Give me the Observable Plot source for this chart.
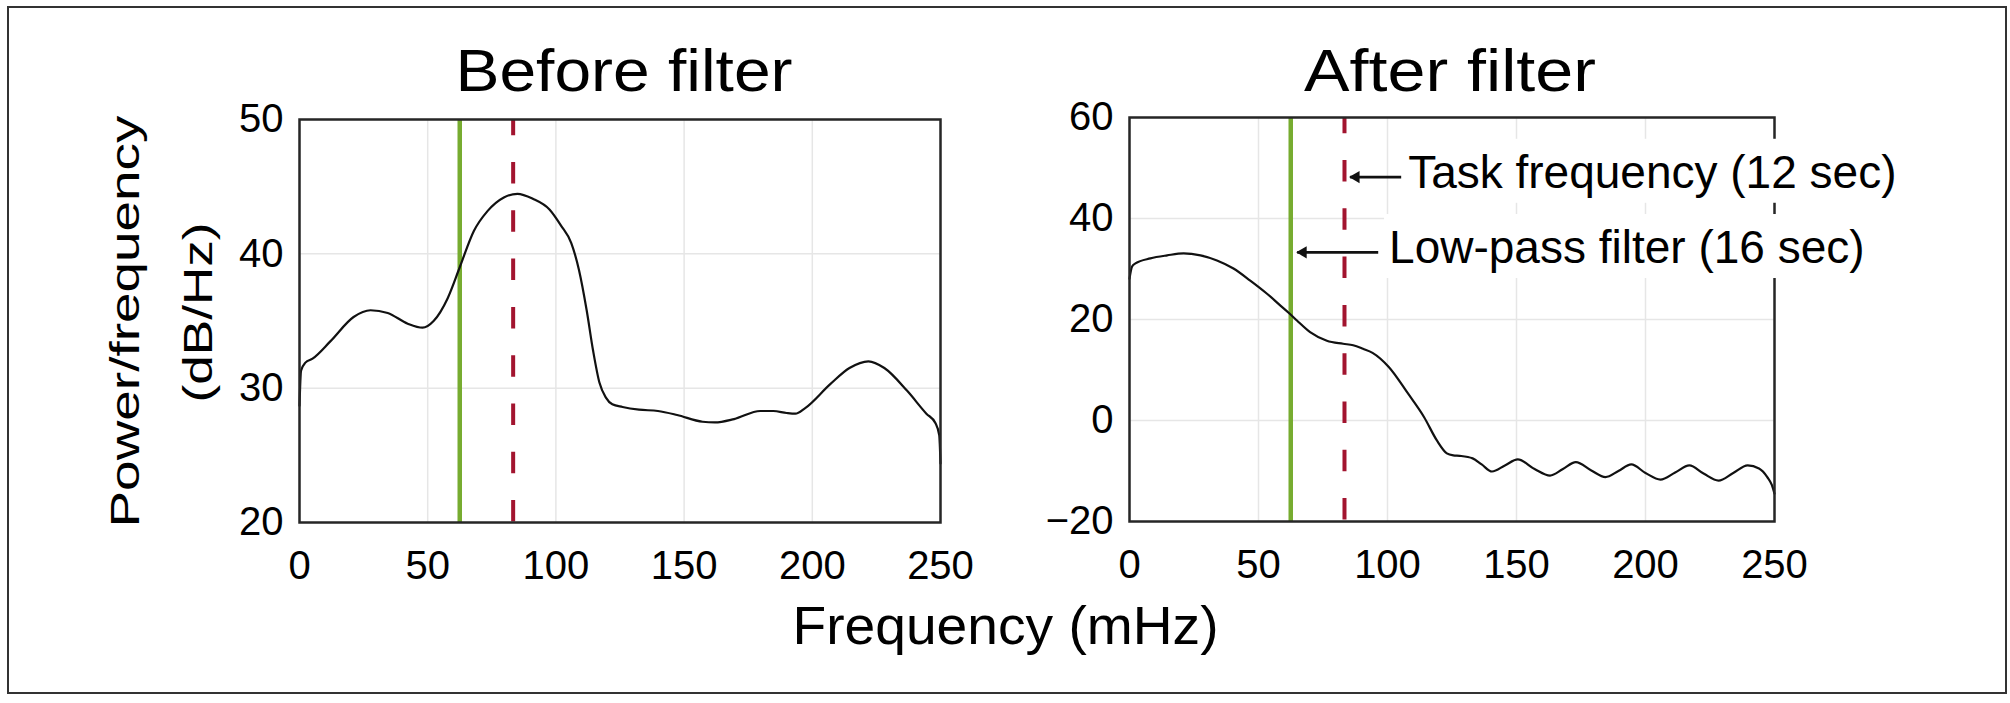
<!DOCTYPE html>
<html><head><meta charset="utf-8">
<script src="https://cdn.jsdelivr.net/npm/d3@7"></script>
<script src="https://cdn.jsdelivr.net/npm/@observablehq/plot@0.6"></script>
<style>
body{margin:0;background:#fff;}
#wrap{position:relative;width:2010px;height:703px;overflow:hidden;background:#fff;}
#border{position:absolute;left:7px;top:6px;width:2000px;height:688px;box-sizing:border-box;border:2px solid #333;}
#left{position:absolute;left:0;top:0;width:1240px;height:703px;}
#right{position:absolute;left:1000px;top:0;width:1010px;height:703px;}
</style></head><body>
<div id="wrap"><div id="border"></div><div id="left"></div><div id="right"></div></div>
<script>
// ---- data ----
const xTicks = [0, 50, 100, 150, 200, 250];
const beforeTicks = [20, 30, 40, 50];
const afterTicks = [-20, 0, 20, 40, 60];

const beforeFreq  = [0, 0.6, 2.3, 5.1, 12.1, 21.1, 27.7, 34.4, 42.2, 48, 52.3, 57.8, 62.5, 68, 73.4, 79.7, 85, 91, 97.5, 102, 106, 109, 112, 114.5, 117, 119.5, 122, 126, 132.4, 139.8, 147.3, 157.2, 162, 169.5, 179.7, 184.8, 190, 193.4, 197.1, 207, 214.5, 221.9, 228.1, 237, 244.5, 248, 249.5, 250];
const beforePower = [28.7, 31.3, 31.9, 32.2, 33.5, 35.3, 35.8, 35.6, 34.8, 34.5, 35.0, 36.7, 39.0, 41.7, 43.2, 44.2, 44.47, 44.1, 43.3, 42.1, 40.8, 38.8, 35.8, 32.8, 30.4, 29.3, 28.8, 28.6, 28.4, 28.3, 28.0, 27.5, 27.45, 27.7, 28.3, 28.3, 28.15, 28.1, 28.5, 30.3, 31.5, 32.0, 31.5, 29.8, 28.1, 27.4, 26.5, 24.4];

const afterFreq  = [0, 1, 2.3, 8.1, 14.6, 21, 27.5, 33.9, 40.3, 46.8, 53.3, 58.4, 62, 64.9, 70, 76.5, 82.8, 86.7, 90.5, 94.2, 100.5, 108, 114.2, 119.2, 123, 125.5, 128, 133, 136.5, 140.5, 145.5, 150.5, 157, 163, 168, 173, 179, 184.5, 189.5, 194.5, 200, 205.8, 211.5, 217, 222.5, 228.3, 234, 239.6, 244, 247.2, 249, 250];
const afterPower = [28.1, 30.5, 31.1, 32.1, 32.7, 33.1, 32.7, 31.7, 30.1, 27.7, 25.1, 22.8, 21.2, 19.8, 17.5, 15.8, 15.2, 14.9, 14.2, 13.4, 10.6, 5.3, 0.65, -4.0, -6.5, -6.9, -7.0, -7.5, -8.7, -10.1, -8.9, -7.7, -9.6, -10.9, -9.6, -8.25, -9.9, -11.2, -10.0, -8.7, -10.4, -11.7, -10.3, -8.9, -10.5, -11.9, -10.4, -8.9, -9.5, -11.2, -12.8, -14.5];

const lowPassFreq = [62.5];   // 16 s low-pass cut-off (mHz)
const taskFreq = [83.33];     // 12 s task frequency (mHz)

const titles = ["Before filter", "After filter"];
const xLabel = "Frequency (mHz)";
const yLabel = ["Power/frequency", "(dB/Hz)"];

const annotLabels = ["Task frequency (12 sec)", "Low-pass filter (16 sec)"];
const annotTextFreq = [108, 100.6];
const annotTextPower = [49.0, 34.1];
const annotArrowFrom = [105.3, 96.4];
const annotArrowTo = [85.5, 65];
const annotArrowPower = [48.2, 33.3];

// ---- build tables ----
const before = beforeFreq.map((f, i) => ({f, p: beforePower[i]}));
const after = afterFreq.map((f, i) => ({f, p: afterPower[i]}));
const annots = annotLabels.map((label, i) => ({
  label, tx: annotTextFreq[i], ty: annotTextPower[i],
  x1: annotArrowFrom[i], x2: annotArrowTo[i], y: annotArrowPower[i]
}));

const font = '"Liberation Sans", Arial, Helvetica, sans-serif';
const style = {fontFamily: font, fontSize: "40px", color: "black", background: "transparent", overflow: "visible", maxWidth: "none"};
const gridStyle = {stroke: "#e6e6e6", strokeWidth: 1.5};
const greenStyle = {stroke: "#77AC30", strokeWidth: 4.5};
const redStyle = {stroke: "#A2142F", strokeWidth: 4, strokeDasharray: "21.5,26.8", strokeDashoffset: 5.3};
const curveStyle = {x: "f", y: "p", curve: "monotone-x", stroke: "#111", strokeWidth: 2.2};
const frameStyle = {stroke: "#262626", strokeWidth: 2.5};

const leftPlot = Plot.plot({
  width: 1240, height: 703,
  marginLeft: 299, marginRight: 300, marginTop: 119, marginBottom: 181,
  style,
  x: {domain: [0, 250], ticks: xTicks, tickSize: 0, tickPadding: 28, label: null},
  y: {domain: [20, 50], ticks: beforeTicks, tickSize: 0, tickPadding: 16, label: null},
  marks: [
    Plot.ruleX(xTicks, gridStyle),
    Plot.ruleY(beforeTicks, gridStyle),
    Plot.ruleX(lowPassFreq, greenStyle),
    Plot.ruleX(taskFreq, redStyle),
    Plot.line(before, curveStyle),
    Plot.frame(frameStyle),
    Plot.text([titles[0]], {frameAnchor: "top", textAnchor: "middle", lineAnchor: "bottom", dx: 4, dy: -29, fontSize: 59}),
    Plot.text([yLabel[0]], {frameAnchor: "left", textAnchor: "middle", lineAnchor: "bottom", rotate: -90, dx: -161, dy: 0.5, fontSize: 40}),
    Plot.text([yLabel[1]], {frameAnchor: "left", textAnchor: "middle", lineAnchor: "bottom", rotate: -90, dx: -88, dy: -8.5, fontSize: 40}),
    Plot.text([xLabel], {frameAnchor: "bottom-right", textAnchor: "middle", lineAnchor: "bottom", dx: 65, dy: 121, fontSize: 53})
  ]
});

const rightPlot = Plot.plot({
  width: 1010, height: 703,
  marginLeft: 129, marginRight: 236, marginTop: 117, marginBottom: 182,
  style,
  x: {domain: [0, 250], ticks: xTicks, tickSize: 0, tickPadding: 28, label: null},
  y: {domain: [-20, 60], ticks: afterTicks, tickSize: 0, tickPadding: 16, label: null},
  marks: [
    Plot.ruleX(xTicks, gridStyle),
    Plot.ruleY(afterTicks, gridStyle),
    Plot.ruleX(lowPassFreq, greenStyle),
    Plot.ruleX(taskFreq, redStyle),
    Plot.line(after, curveStyle),
    Plot.frame(frameStyle),
    Plot.text([titles[1]], {frameAnchor: "top", textAnchor: "middle", lineAnchor: "bottom", dx: -2, dy: -27, fontSize: 59}),
    Plot.link(annots, {x1: "x1", x2: "x2", y1: "y", y2: "y", stroke: "#111", strokeWidth: 2.6}),
    Plot.dot(annots, {x: "x2", y: "y", symbol: "triangle", r: 4.5, rotate: -90, dx: 6, fill: "#111", stroke: "none"}),
    Plot.text(annots, {x: "tx", y: "ty", text: "label", textAnchor: "start", lineAnchor: "middle", fontSize: 46, fill: "black"})
  ]
});

document.getElementById("left").appendChild(leftPlot);
document.getElementById("right").appendChild(rightPlot);

function stretch(svg, content, len) {
  d3.select(svg).selectAll("text")
    .filter(function () { return this.textContent === content; })
    .attr("textLength", len).attr("lengthAdjust", "spacingAndGlyphs");
}
stretch(leftPlot, titles[0], 337);
stretch(rightPlot, titles[1], 292);
stretch(leftPlot, yLabel[0], 412);
stretch(leftPlot, yLabel[1], 180);
stretch(leftPlot, xLabel, 426);

// white background boxes behind the annotation texts (as in the original figure)
d3.select(rightPlot).selectAll("text")
  .filter(function () { return annotLabels.includes(this.textContent); })
  .each(function () {
    const bb = this.getBBox();
    const r = document.createElementNS("http://www.w3.org/2000/svg", "rect");
    r.setAttribute("x", bb.x - 5);
    r.setAttribute("y", bb.y - 7);
    r.setAttribute("width", bb.width + 10);
    r.setAttribute("height", bb.height + 12);
    r.setAttribute("fill", "white");
    const t = this.getAttribute("transform");
    if (t) r.setAttribute("transform", t);
    this.parentNode.insertBefore(r, this);
  });
</script>
</body></html>
